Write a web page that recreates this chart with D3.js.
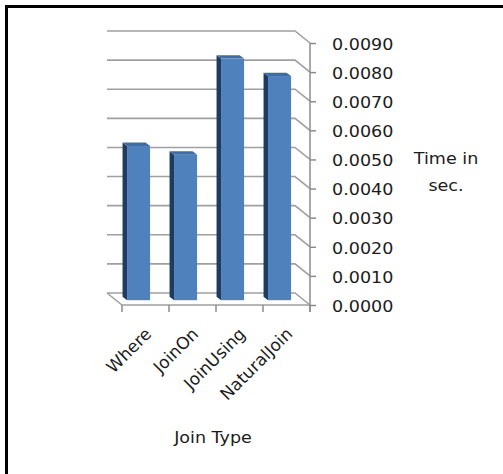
<!DOCTYPE html>
<html>
<head>
<meta charset="utf-8">
<script src="https://cdn.jsdelivr.net/npm/d3@7"></script>
<style>
  body { margin: 0; background: #fff; }
  text { font-family: "DejaVu Sans", sans-serif; fill: #1c1c1c; }
</style>
</head>
<body>
<div id="chart"></div>
<script>
// data
var categories = ["Where", "JoinOn", "JoinUsing", "NaturalJoin"];
var times = [0.0053, 0.0050, 0.0083, 0.0077];
var yTicks = [0, 0.001, 0.002, 0.003, 0.004, 0.005, 0.006, 0.007, 0.008, 0.009];
var yTitle = ["Time in", "sec."];
var xTitle = "Join Type";

var W = 503, H = 474;
var dx = 15, dy = 12;      // depth offset of the 3d box (back -> front)
var stretch = 1.17;        // the picture is a bit stretched sideways

var svg = d3.select("#chart").append("svg")
    .attr("width", W)
    .attr("height", H);

// frame: only left and top sides
svg.append("path")
    .attr("d", "M6.5,474 V6.5 H503")
    .attr("fill", "none")
    .attr("stroke", "#000")
    .attr("stroke-width", 3);

// scales on the back wall
var x = d3.scaleBand().domain(categories).range([107, 295]);
var y = d3.scaleLinear().domain([0, 0.009]).range([293, 31]);
// front plane scale for the value axis
var yFront = d3.scaleLinear().domain([0, 0.009]).range([293 + dy, 31 + dy]);

// gridlines on back wall, bending to the axis
svg.append("g").selectAll("path")
    .data(yTicks)
    .join("path")
    .attr("d", function(d) {
        return "M107," + y(d) + " H295 L" + (295 + dx) + "," + (y(d) + dy);
    })
    .attr("fill", "none")
    .attr("stroke", "#a0a0a0")
    .attr("stroke-width", 1.6);

// floor edges
svg.append("path")
    .attr("d", "M107," + y(0) + " L" + (107 + dx) + "," + (y(0) + dy) + " H" + (295 + dx))
    .attr("fill", "none")
    .attr("stroke", "#a0a0a0")
    .attr("stroke-width", 1.6);

// category ticks at the front
svg.append("g").selectAll("line")
    .data(d3.range(categories.length + 1))
    .join("line")
    .attr("x1", function(i) { return 107 + dx + i * x.bandwidth(); })
    .attr("x2", function(i) { return 107 + dx + i * x.bandwidth(); })
    .attr("y1", y(0) + dy)
    .attr("y2", y(0) + dy + 7)
    .attr("stroke", "#8c8c8c")
    .attr("stroke-width", 1.5);

// value axis on the right
var axis = svg.append("g")
    .attr("transform", "translate(" + (295 + dx) + ",0)")
    .call(d3.axisRight(yFront).tickValues(yTicks).tickFormat(d3.format(".4f")).tickSize(6).tickPadding(16));
axis.select(".domain").attr("stroke", "#8c8c8c").attr("stroke-width", 1.5)
    .attr("d", "M0," + (yFront(0.009)) + "V" + (yFront(0) + 7));
axis.selectAll(".tick line").attr("stroke", "#8c8c8c").attr("stroke-width", 1.5);
axis.selectAll(".tick text")
    .attr("font-size", 15)
    .attr("font-family", "DejaVu Sans")
    .attr("fill", "#1c1c1c")
    .attr("transform", "translate(0,1.5) scale(" + stretch + ",1)")
    .attr("x", 22 / stretch);

// bars, placed part way into the depth
var t = 0.6, depth = 4.5, depthY = 3.4;
var bw = x.bandwidth() * 0.49;
var bars = svg.append("g").selectAll("g")
    .data(categories)
    .join("g");

function bx(c) { return x(c) + x.bandwidth() * 0.235 + t * dx; }
function by(v) { return y(v) + t * dy; }

bars.append("path")   // left side
    .attr("d", function(c, i) {
        var x0 = bx(c), y0 = by(0), y1 = by(times[i]);
        return "M" + x0 + "," + y1 + " V" + y0 + " L" + (x0 - depth) + "," + (y0 - depthY) +
            " V" + (y1 - depthY) + " Z";
    })
    .attr("fill", "#1f3b5e");

bars.append("path")   // top
    .attr("d", function(c, i) {
        var x0 = bx(c), y1 = by(times[i]);
        return "M" + x0 + "," + y1 + " H" + (x0 + bw) + " L" + (x0 + bw - depth) + "," + (y1 - depthY) +
            " H" + (x0 - depth) + " Z";
    })
    .attr("fill", "#3f6ca5");

bars.append("rect")   // front
    .attr("x", function(c) { return bx(c); })
    .attr("y", function(c, i) { return by(times[i]); })
    .attr("width", bw)
    .attr("height", function(c, i) { return by(0) - by(times[i]); })
    .attr("fill", "#4f81bd");

// category labels, slanted
svg.append("g").selectAll("text")
    .data(categories)
    .join("text")
    .attr("transform", function(c) {
        return "translate(" + (x(c) + x.bandwidth() / 2 + dx + 7) + ",335) rotate(-45)";
    })
    .attr("text-anchor", "end")
    .attr("font-size", 17)
    .text(function(c) { return c; });

// value axis title
svg.append("g")
    .attr("transform", "translate(446,0) scale(" + stretch + ",1)")
    .selectAll("text")
    .data(yTitle)
    .join("text")
    .attr("y", function(d, i) { return 164 + i * 27; })
    .attr("text-anchor", "middle")
    .attr("font-size", 15)
    .text(function(d) { return d; });

// category axis title
svg.append("text")
    .attr("transform", "translate(213,443) scale(" + stretch + ",1)")
    .attr("text-anchor", "middle")
    .attr("font-size", 15)
    .text(xTitle);
</script>
</body>
</html>
